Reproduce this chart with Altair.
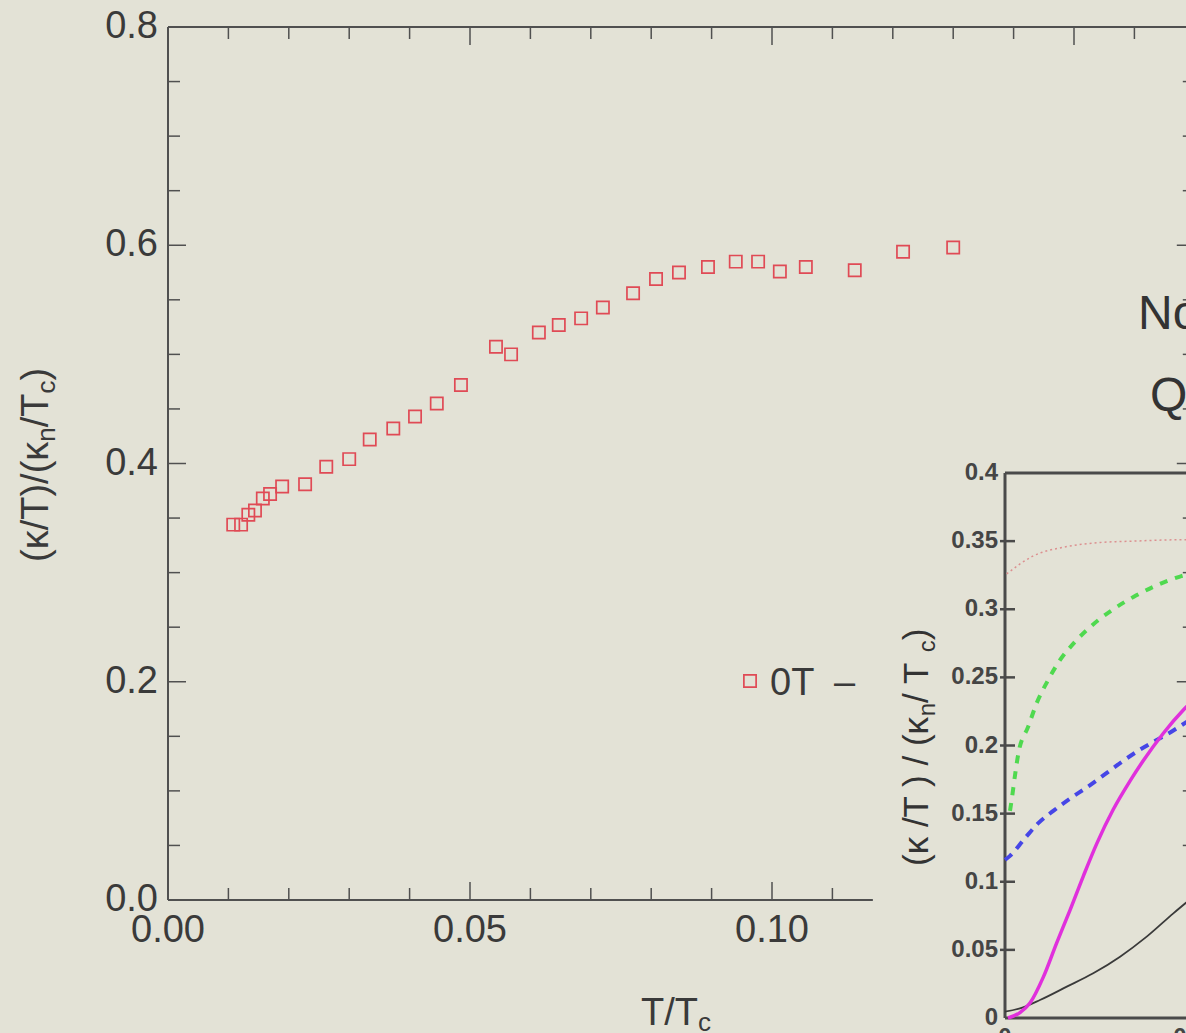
import altair as alt
import pandas as pd

# ---------------- data ----------------
# main panel: 0 T data, T/Tc  vs  (kappa/T)/(kappa_n/Tc)
t_over_tc = [0.0108, 0.0121, 0.0133, 0.0144, 0.0157, 0.0169, 0.0189, 0.0227, 0.0262, 0.0300,
             0.0334, 0.0373, 0.0409, 0.0445, 0.0485, 0.0543, 0.0568, 0.0614, 0.0647, 0.0684,
             0.0720, 0.0770, 0.0808, 0.0846, 0.0894, 0.0940, 0.0977, 0.1013, 0.1056, 0.1137,
             0.1217, 0.1300]
kappa_ratio = [0.344, 0.344, 0.353, 0.357, 0.368, 0.372, 0.379, 0.381, 0.397, 0.404,
               0.422, 0.432, 0.443, 0.455, 0.472, 0.507, 0.500, 0.520, 0.527, 0.533,
               0.543, 0.556, 0.569, 0.575, 0.580, 0.585, 0.585, 0.576, 0.580, 0.577,
               0.594, 0.598]
legend_label = "0T"

main_x_ticks_bottom = [0.01, 0.02, 0.03, 0.04, 0.05, 0.06, 0.07, 0.08, 0.09, 0.10, 0.11]
main_x_ticks_top = [0.01, 0.02, 0.03, 0.04, 0.05, 0.06, 0.07, 0.08, 0.09, 0.10, 0.11,
                    0.12, 0.13, 0.14, 0.15, 0.16]
main_x_major = [0.05, 0.10, 0.15]
main_y_ticks = [0.05, 0.10, 0.15, 0.20, 0.25, 0.30, 0.35, 0.40, 0.45, 0.50, 0.55,
                0.60, 0.65, 0.70, 0.75]
main_y_major = [0.20, 0.40, 0.60]
main_x_label_vals = [0.00, 0.05, 0.10]
main_x_label_text = ["0.00", "0.05", "0.10"]
main_y_label_vals = [0.0, 0.2, 0.4, 0.6, 0.8]
main_y_label_text = ["0.0", "0.2", "0.4", "0.6", "0.8"]
main_x_frame_end = 0.170      # right frame of the main panel
main_bottom_axis_end = 0.1167  # bottom axis line stops here
main_y_top = 0.8

# inset panel curves
pink_x = [0.0009, 0.0151, 0.0334, 0.0514, 0.0692, 0.0962, 0.1000]
pink_y = [0.326, 0.339, 0.346, 0.349, 0.350, 0.351, 0.351]
green_x = [0.0027, 0.0036, 0.0054, 0.0072, 0.0126, 0.0171, 0.0225, 0.0294, 0.0378, 0.0469,
           0.0585, 0.0694, 0.0811, 0.0946, 0.1000]
green_y = [0.152, 0.160, 0.178, 0.194, 0.214, 0.231, 0.246, 0.262, 0.276, 0.288,
           0.300, 0.309, 0.317, 0.324, 0.326]
blue_x = [0.0000, 0.0027, 0.0108, 0.0180, 0.0261, 0.0351, 0.0450, 0.0541, 0.0631, 0.0730,
          0.0820, 0.0910, 0.1000]
blue_y = [0.116, 0.119, 0.132, 0.143, 0.152, 0.161, 0.170, 0.179, 0.188, 0.197,
          0.204, 0.211, 0.219]
magenta_x = [0.0016, 0.0081, 0.0135, 0.0207, 0.0279, 0.0351, 0.0423, 0.0496, 0.0585, 0.0676,
             0.0748, 0.0856, 0.0964, 0.1000]
magenta_y = [0.000, 0.004, 0.011, 0.030, 0.055, 0.079, 0.104, 0.128, 0.153, 0.174,
             0.189, 0.209, 0.226, 0.231]
black_x = [0.0000, 0.0081, 0.0189, 0.0334, 0.0477, 0.0622, 0.0766, 0.0910, 0.1000]
black_y = [0.0046, 0.0071, 0.0132, 0.0230, 0.0328, 0.0450, 0.0597, 0.0768, 0.0870]

inset_y_ticks = [0.05, 0.10, 0.15, 0.20, 0.25, 0.30, 0.35]
inset_y_label_vals = [0.0, 0.05, 0.10, 0.15, 0.20, 0.25, 0.30, 0.35, 0.40]
inset_y_label_text = ["0", "0.05", "0.1", "0.15", "0.2", "0.25", "0.3", "0.35", "0.4"]
inset_x_label_vals = [0.0, 0.1]
inset_x_label_text = ["0", "0.1"]
inset_y_top = 0.4
inset_x_frame_end = 0.5

# ---------------- layout / style ----------------
W, H = 1186, 1033
BG = "#e3e2d6"
AX = "#505050"
TXT = "#3a3a3a"
FONT = "Liberation Sans"
RED = "#e04a55"

# main panel geometry (pixels)
M_X0, M_Y0, M_SX, M_SY = 168, 900, 6040.0, 1091.25
main_xs = alt.Scale(domain=[-M_X0 / M_SX, (W - M_X0) / M_SX], nice=False, zero=False)
main_ys = alt.Scale(domain=[(M_Y0 - H) / M_SY, M_Y0 / M_SY], nice=False, zero=False)
# inset geometry (pixels)
I_X0, I_Y0, I_SX, I_SY = 1005, 1018, 1850.0, 1362.5
ins_xs = alt.Scale(domain=[-I_X0 / I_SX, (W - I_X0) / I_SX], nice=False, zero=False)
ins_ys = alt.Scale(domain=[(I_Y0 - H) / I_SY, I_Y0 / I_SY], nice=False, zero=False)


def xf(field, sc):
    return alt.X(field, type="quantitative", scale=sc, axis=None)


def yf(field, sc):
    return alt.Y(field, type="quantitative", scale=sc, axis=None)


def xd(v, sc):
    return alt.XDatum(v, type="quantitative", scale=sc, axis=None)


def yd(v, sc):
    return alt.YDatum(v, type="quantitative", scale=sc, axis=None)


one = pd.DataFrame({"a": [0]})
layers = []

# ---- main frame lines
layers.append(alt.Chart(one).mark_rule(color=AX, strokeWidth=2).encode(
    x=xd(0, main_xs), y=yd(0, main_ys), y2=alt.Y2Datum(main_y_top)))
layers.append(alt.Chart(one).mark_rule(color=AX, strokeWidth=2).encode(
    x=xd(0, main_xs), x2=alt.X2Datum(main_x_frame_end), y=yd(main_y_top, main_ys)))
layers.append(alt.Chart(one).mark_rule(color=AX, strokeWidth=2).encode(
    x=xd(0, main_xs), x2=alt.X2Datum(main_bottom_axis_end), y=yd(0, main_ys)))


def tick_df(vals, majors, major):
    keep = [v for v in vals if (any(abs(v - m) < 1e-9 for m in majors) == major)]
    return pd.DataFrame({"v": keep})


for major, ln in ((False, 12), (True, 18)):
    # bottom ticks (inward = up)
    layers.append(alt.Chart(tick_df(main_x_ticks_bottom, main_x_major, major)).mark_tick(
        orient="vertical", size=ln, thickness=1.5, yOffset=-ln / 2, color=AX, opacity=1).encode(
        x=xf("v", main_xs), y=yd(0, main_ys)))
    # top ticks (inward = down)
    layers.append(alt.Chart(tick_df(main_x_ticks_top, main_x_major, major)).mark_tick(
        orient="vertical", size=ln, thickness=1.5, yOffset=ln / 2, color=AX, opacity=1).encode(
        x=xf("v", main_xs), y=yd(main_y_top, main_ys)))
    # left ticks (inward = right)
    layers.append(alt.Chart(tick_df(main_y_ticks, main_y_major, major)).mark_tick(
        orient="horizontal", size=ln, thickness=1.5, xOffset=ln / 2, color=AX, opacity=1).encode(
        x=xd(0, main_xs), y=yf("v", main_ys)))
    # right ticks (inward = left)
    layers.append(alt.Chart(tick_df(main_y_ticks, main_y_major, major)).mark_tick(
        orient="horizontal", size=ln, thickness=1.5, xOffset=-ln / 2, color=AX, opacity=1).encode(
        x=xd(main_x_frame_end, main_xs), y=yf("v", main_ys)))

# ---- main tick labels
layers.append(alt.Chart(pd.DataFrame({"v": main_y_label_vals, "s": main_y_label_text})).mark_text(
    align="right", baseline="middle", dx=-10, fontSize=38, font=FONT, color=TXT).encode(
    x=xd(0, main_xs), y=yf("v", main_ys), text="s:N"))
layers.append(alt.Chart(pd.DataFrame({"v": main_x_label_vals, "s": main_x_label_text})).mark_text(
    align="center", baseline="top", dy=12, fontSize=38, font=FONT, color=TXT).encode(
    x=xf("v", main_xs), y=yd(0, main_ys), text="s:N"))

# ---- main data
layers.append(alt.Chart(pd.DataFrame({"t": t_over_tc, "k": kappa_ratio})).mark_point(
    shape="square", filled=False, size=150, strokeWidth=1.7, color=RED, opacity=1).encode(
    x=xf("t", main_xs), y=yf("k", main_ys)))

# ---- legend
layers.append(alt.Chart(one).mark_point(
    shape="square", filled=False, size=150, strokeWidth=1.7, color=RED, opacity=1).encode(
    x=alt.value(750), y=alt.value(681)))
layers.append(alt.Chart(one).mark_text(
    text=legend_label, align="left", baseline="alphabetic", fontSize=38, font=FONT, color=TXT).encode(
    x=alt.value(770), y=alt.value(695)))
layers.append(alt.Chart(one).mark_text(
    text="\u2013", align="left", baseline="alphabetic", fontSize=38, font=FONT, color=TXT).encode(
    x=alt.value(834), y=alt.value(695)))

# ---- widths (Arial metrics) for composing titles with subscripts
CW = {"(": 0.333, ")": 0.333, "/": 0.278, "T": 0.611, "\u03ba": 0.5, " ": 0.278,
      "n": 0.556, "c": 0.5}


def seg_width(s, fs):
    return sum(CW.get(ch, 0.55) for ch in s) * fs


def composed_text(x, y, segs, angle=0, color=TXT):
    out = []
    off = 0.0
    for s, fs, sub in segs:
        kw = dict(text=s, align="left", baseline="alphabetic", fontSize=fs, font=FONT,
                  color=color, dx=off, dy=sub)
        if angle:
            kw["angle"] = angle
        out.append(alt.Chart(one).mark_text(**kw).encode(x=alt.value(x), y=alt.value(y)))
        off += seg_width(s, fs)
    return out


# main y title (rotated)
layers += composed_text(48, 562, [("(\u03ba/T)/(\u03ba", 38, 0), ("n", 26, 7), ("/T", 38, 0),
                                  ("c", 26, 7), (")", 38, 0)], angle=270)
# main x title
layers += composed_text(641, 1025, [("T/T", 38, 0), ("c", 26, 6)])

# ---- cut-off slide text on the right
layers.append(alt.Chart(one).mark_text(text="No", align="left", baseline="alphabetic",
                                       fontSize=48, font=FONT, color="#333333").encode(
    x=alt.value(1138), y=alt.value(329)))
layers.append(alt.Chart(one).mark_text(text="Q", align="left", baseline="alphabetic",
                                       fontSize=48, font=FONT, color="#333333").encode(
    x=alt.value(1150), y=alt.value(411)))

# ---------------- inset ----------------
IAX = "#4a4a4a"
layers.append(alt.Chart(one).mark_rule(color=IAX, strokeWidth=3).encode(
    x=xd(0, ins_xs), y=yd(0, ins_ys), y2=alt.Y2Datum(inset_y_top)))
layers.append(alt.Chart(one).mark_rule(color=IAX, strokeWidth=3).encode(
    x=xd(0, ins_xs), x2=alt.X2Datum(inset_x_frame_end), y=yd(inset_y_top, ins_ys)))
layers.append(alt.Chart(one).mark_rule(color=IAX, strokeWidth=3).encode(
    x=xd(0, ins_xs), x2=alt.X2Datum(inset_x_frame_end), y=yd(0, ins_ys)))
layers.append(alt.Chart(pd.DataFrame({"v": inset_y_ticks})).mark_tick(
    orient="horizontal", size=15, thickness=2.5, xOffset=2.5, color=IAX, opacity=1).encode(
    x=xd(0, ins_xs), y=yf("v", ins_ys)))
layers.append(alt.Chart(pd.DataFrame({"v": inset_y_label_vals, "s": inset_y_label_text})).mark_text(
    align="right", baseline="middle", dx=-7, fontSize=24, fontWeight="bold", font=FONT,
    color="#454545").encode(x=xd(0, ins_xs), y=yf("v", ins_ys), text="s:N"))
layers.append(alt.Chart(pd.DataFrame({"v": inset_x_label_vals, "s": inset_x_label_text})).mark_text(
    align="center", baseline="top", dy=8, fontSize=24, fontWeight="bold", font=FONT,
    color="#454545").encode(x=xf("v", ins_xs), y=yd(0, ins_ys), text="s:N"))

layers += composed_text(928, 866, [("(\u03ba /T ) / (\u03ba", 35, 0), ("n", 24, 7), (" / T", 35, 0),
                                   ("c", 24, 7), (")", 35, 0)], angle=270, color="#333333")


def curve(xs, ys, **style):
    return alt.Chart(pd.DataFrame({"x": xs, "y": ys})).mark_line(
        interpolate="monotone", **style).encode(x=xf("x", ins_xs), y=yf("y", ins_ys))


layers.append(curve(pink_x, pink_y, color="#dc9090", strokeWidth=1.5, strokeDash=[2, 3]))
layers.append(curve(black_x, black_y, color="#3a3a3a", strokeWidth=1.8))
layers.append(curve(green_x, green_y, color="#4fd94f", strokeWidth=4, strokeDash=[8, 8]))
layers.append(curve(blue_x, blue_y, color="#4646e6", strokeWidth=4, strokeDash=[9, 7]))
layers.append(curve(magenta_x, magenta_y, color="#e030dc", strokeWidth=3.5))

chart = alt.layer(*layers).resolve_scale(x="independent", y="independent").properties(
    width=W, height=H, padding=0,
    autosize=alt.AutoSizeParams(type="none"),
    background=BG,
).configure_view(stroke=None)

chart.save("out.html", embed_options={"renderer": "svg", "actions": False})
